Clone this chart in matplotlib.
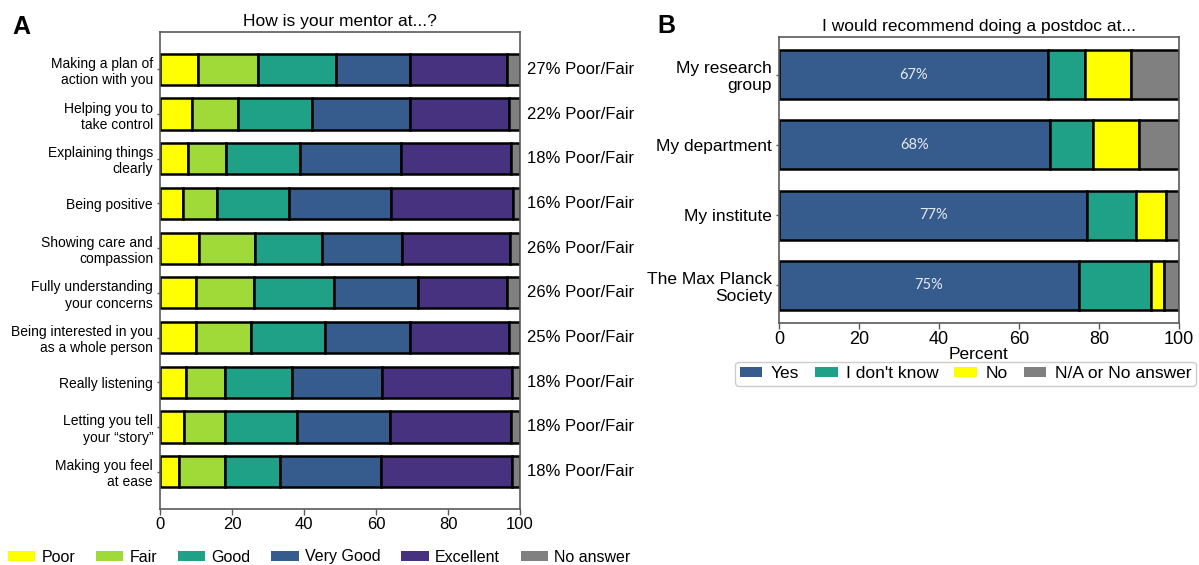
import matplotlib
matplotlib.use("Agg")
import matplotlib.pyplot as plt
from matplotlib.patches import Patch
import numpy as np

plt.rcParams['font.family'] = ['Liberation Sans', 'DejaVu Sans']

# ---- Panel A data: mentor ratings (% of respondents) ----
skills = [
    "Making a plan of\naction with you",
    "Helping you to\ntake control",
    "Explaining things\nclearly",
    "Being positive",
    "Showing care and\ncompassion",
    "Fully understanding\nyour concerns",
    "Being interested in you\nas a whole person",
    "Really listening",
    "Letting you tell\nyour \u201cstory\u201d",
    "Making you feel\nat ease",
]
rating_levels = ["Poor", "Fair", "Good", "Very Good", "Excellent", "No answer"]
poor      = [10.6, 9.0, 7.9, 6.4, 10.8, 10.0, 9.9, 7.1, 6.6, 5.2]
fair      = [16.6, 12.6, 10.4, 9.3, 15.5, 16.1, 15.3, 11.0, 11.5, 12.9]
good      = [21.6, 20.6, 20.7, 20.2, 18.7, 22.2, 20.7, 18.7, 20.0, 15.2]
very_good = [20.6, 27.3, 28.0, 28.4, 22.3, 23.5, 23.6, 25.0, 25.8, 28.0]
excellent = [27.1, 27.5, 30.6, 33.7, 29.8, 24.7, 27.4, 36.0, 33.7, 36.5]
no_answer = [3.5, 3.0, 2.4, 2.0, 2.9, 3.5, 3.1, 2.2, 2.4, 2.2]

# ---- Panel B data: would recommend a postdoc at... (%) ----
places = ["My research\ngroup", "My department", "My institute", "The Max Planck\nSociety"]
answer_levels = ["Yes", "I don't know", "No", "N/A or No answer"]
yes       = [67.2, 67.8, 77.1, 74.9]
dont_know = [9.2, 10.7, 12.2, 18.0]
no        = [11.6, 11.5, 7.4, 3.4]
na        = [12.0, 10.0, 3.3, 3.7]

YELLOW = "#FFFF00"
LIME = "#A0DA39"
TEAL = "#1FA187"
BLUE = "#365C8D"
PURPLE = "#46327E"
GREY = "#808080"
SPINE = "#5a5a5a"

fig = plt.figure(figsize=(11.99, 5.65), dpi=100)
W, H = 1199, 565

def px_axes(x0, y0, x1, y1):
    return fig.add_axes([x0 / W, 1 - y1 / H, (x1 - x0) / W, (y1 - y0) / H])

def style_axes(ax, tick_size):
    for s in ax.spines.values():
        s.set_color(SPINE)
        s.set_linewidth(1.2)
    ax.tick_params(axis='both', colors=SPINE, labelcolor='black', width=1.0)
    ax.tick_params(axis='x', length=4, labelsize=tick_size, pad=2)
    ax.tick_params(axis='y', length=2, pad=3)

# ---------------- Panel A ----------------
axA = px_axes(160, 32, 520, 509)
ypos = np.arange(len(skills))
series_a = [poor, fair, good, very_good, excellent, no_answer]
colors_a = [YELLOW, LIME, TEAL, BLUE, PURPLE, GREY]
left = np.zeros(len(skills))
for vals, col in zip(series_a, colors_a):
    vals = np.asarray(vals)
    axA.barh(ypos, vals, left=left, height=0.7, color=col,
             edgecolor='black', linewidth=1.8)
    left += vals
axA.set_xlim(0, 100)
axA.set_yticks(ypos)
axA.set_yticklabels(skills, fontsize=10)
axA.invert_yaxis()
style_axes(axA, 12)
axA.set_title("How is your mentor at...?", fontsize=12.5, pad=4)

poor_fair = np.asarray(poor) + np.asarray(fair)
for y, v in zip(ypos, poor_fair):
    axA.text(1.02, y, f"{round(v):d}% Poor/Fair", fontsize=12,
             va='center', ha='left',
             transform=axA.get_yaxis_transform())

handles_a = [Patch(facecolor=c, edgecolor='none') for c in colors_a]
fig.legend(handles_a, rating_levels, loc='center left', ncol=6,
           bbox_to_anchor=(8 / W, 1 - 557 / H), frameon=False,
           fontsize=11.5, handlelength=1.7, handleheight=0.6,
           handletextpad=0.4, columnspacing=1.3, borderaxespad=0,
           borderpad=0)

# ---------------- Panel B ----------------
axB = px_axes(779, 37, 1179, 323)
ypos_b = np.arange(len(places))
series_b = [yes, dont_know, no, na]
colors_b = [BLUE, TEAL, YELLOW, GREY]
left = np.zeros(len(places))
for vals, col in zip(series_b, colors_b):
    vals = np.asarray(vals)
    axB.barh(ypos_b, vals, left=left, height=0.7, color=col,
             edgecolor='black', linewidth=1.8)
    left += vals
for y, v in zip(ypos_b, yes):
    axB.text(v / 2, y, f"{round(v):d}%", fontsize=10.5, family=['Lato', 'DejaVu Sans'],
             color='#e6e8ef', ha='center', va='center')
axB.set_xlim(0, 100)
axB.set_yticks(ypos_b)
axB.set_yticklabels(places, fontsize=12.5)
axB.invert_yaxis()
style_axes(axB, 13)
axB.set_xlabel("Percent", fontsize=12.5, labelpad=-1)
axB.set_title("I would recommend doing a postdoc at...", fontsize=12.5, pad=4)

handles_b = [Patch(facecolor=c, edgecolor='none') for c in colors_b]
axB.legend(handles_b, answer_levels, loc='upper center', ncol=4,
           bbox_to_anchor=(0.5 * (736 + 1195) / W, 1 - 362 / H),
           bbox_transform=fig.transFigure, fontsize=12.5,
           handlelength=1.3, handleheight=0.5, handletextpad=0.5,
           columnspacing=0.9, borderpad=0.25, borderaxespad=0,
           edgecolor='#cccccc', fancybox=True, framealpha=1)

# panel letters
fig.text(12 / W, 1 - 27 / H, "A", fontsize=18, fontweight='bold', va='center', ha='left')
fig.text(657 / W, 1 - 26 / H, "B", fontsize=18, fontweight='bold', va='center', ha='left')

fig.savefig("out.png", dpi=100)
